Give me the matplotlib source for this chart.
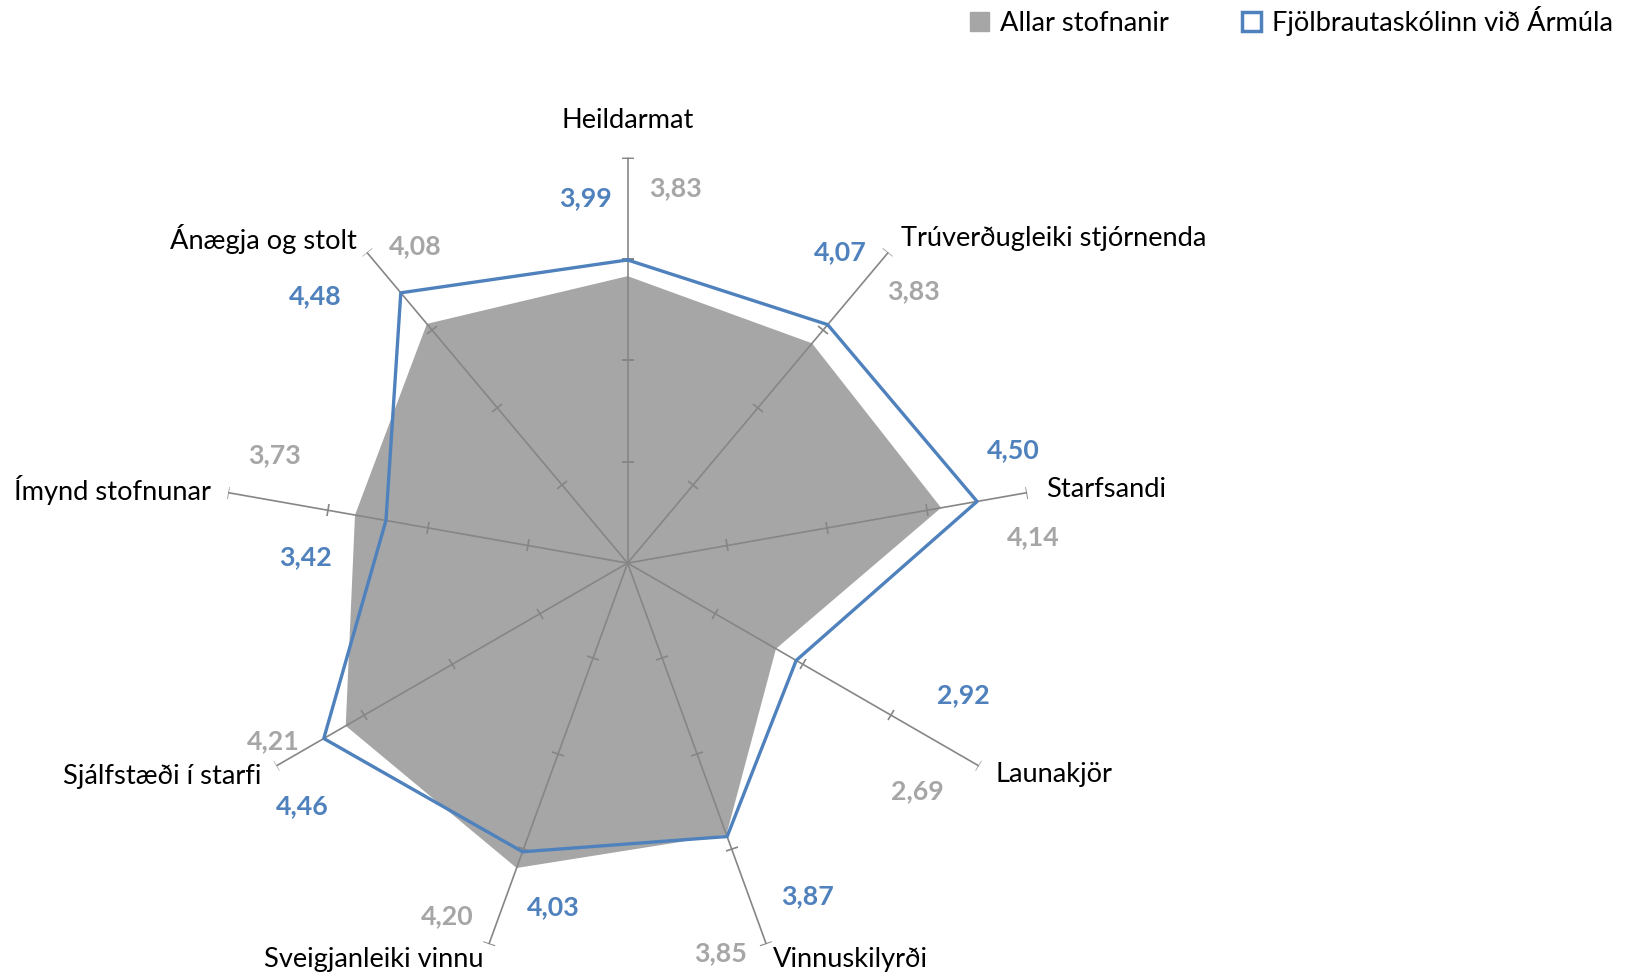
import numpy as np
import matplotlib.pyplot as plt
from matplotlib.markers import MarkerStyle
from matplotlib.transforms import Affine2D
from matplotlib.patches import Patch

plt.rcParams['font.family'] = ['Lato', 'DejaVu Sans']

# data
categories = ['Heildarmat', 'Trúverðugleiki stjórnenda', 'Starfsandi', 'Launakjör',
              'Vinnuskilyrði', 'Sveigjanleiki vinnu', 'Sjálfstæði í starfi',
              'Ímynd stofnunar', 'Ánægja og stolt']
school = [3.99, 4.07, 4.50, 2.92, 3.87, 4.03, 4.46, 3.42, 4.48]
allar = [3.83, 3.83, 4.14, 2.69, 3.85, 4.20, 4.21, 3.73, 4.08]
series_names = ['Allar stofnanir', 'Fjölbrautaskólinn við Ármúla']
r_min, r_max = 1, 5
r_ticks = [2, 3, 4, 5]

# label offsets in pixels (from the data point / axis end)
blue_off = [(-42, 62), (13, 73), (36, 51), (167, -35), (80, -60), (31, -55),
            (-21, -68), (-80, -37), (-85, -3)]
gray_off = [(48, 88), (101, 52), (92, -29), (141, -142), (-6, -119), (-69, -48),
            (-72, -15), (-81, 60), (-12, 78)]
cat_off = [(0, 37), (13, 14), (19, 3), (17, -9), (7, -15), (-5, -15),
           (-15, -11), (-17, 3), (-10, 13)]
cat_ha = ['center', 'left', 'left', 'left', 'left', 'right', 'right', 'right', 'right']

BLUE = '#4F81BD'
GRAY = '#A6A6A6'
SPOKE = '#868686'

fig = plt.figure(figsize=(16.35, 9.77), dpi=100)
ax = fig.add_axes([0.1358, 0.0085, 0.4961, 0.8303], projection='polar')
ax.set_theta_zero_location('N')
ax.set_theta_direction(-1)
ax.set_ylim(r_min, r_max)
ax.grid(False)
ax.set_xticks([])
ax.set_yticks([])
ax.spines['polar'].set_visible(False)
ax.patch.set_alpha(0)

n = len(categories)
theta = np.deg2rad(np.arange(n) * 360 / n)
theta_c = np.append(theta, theta[0])

ax.fill(theta_c, allar + allar[:1], color=GRAY, lw=0, zorder=1)

for i, t in enumerate(theta):
    ax.plot([t, t], [r_min, r_max], color=SPOKE, lw=1.2, zorder=2)
    m = MarkerStyle('_', transform=Affine2D().rotate_deg(-np.rad2deg(t)))
    ax.plot([t] * len(r_ticks), r_ticks, ls='none', marker=m, ms=9,
            mec=SPOKE, mew=1.2, zorder=2)

ax.plot(theta_c, school + school[:1], color=BLUE, lw=2.4, zorder=3)

for i, t in enumerate(theta):
    ax.annotate(f"{school[i]:.2f}".replace('.', ','), (t, school[i]),
                xytext=blue_off[i], textcoords='offset pixels', ha='center',
                va='center', fontsize=19.3, fontweight='bold', color=BLUE)
    ax.annotate(f"{allar[i]:.2f}".replace('.', ','), (t, allar[i]),
                xytext=gray_off[i], textcoords='offset pixels', ha='center',
                va='center', fontsize=19.3, fontweight='bold', color=GRAY)
    ax.annotate(categories[i], (t, r_max), xytext=cat_off[i],
                textcoords='offset pixels', ha=cat_ha[i], va='center',
                fontsize=19.6, color='black', annotation_clip=False)

handles = [Patch(facecolor=GRAY, edgecolor=GRAY),
           Patch(facecolor='white', edgecolor=BLUE, lw=2.5)]
fig.legend(handles, series_names, loc='center right', bbox_to_anchor=(0.9865, 0.978),
           ncol=2, frameon=False, fontsize=19.6, handlelength=0.7, handleheight=0.7,
           handletextpad=0.4, columnspacing=2.7, borderaxespad=0, borderpad=0)

fig.savefig('out.png', dpi=100)
